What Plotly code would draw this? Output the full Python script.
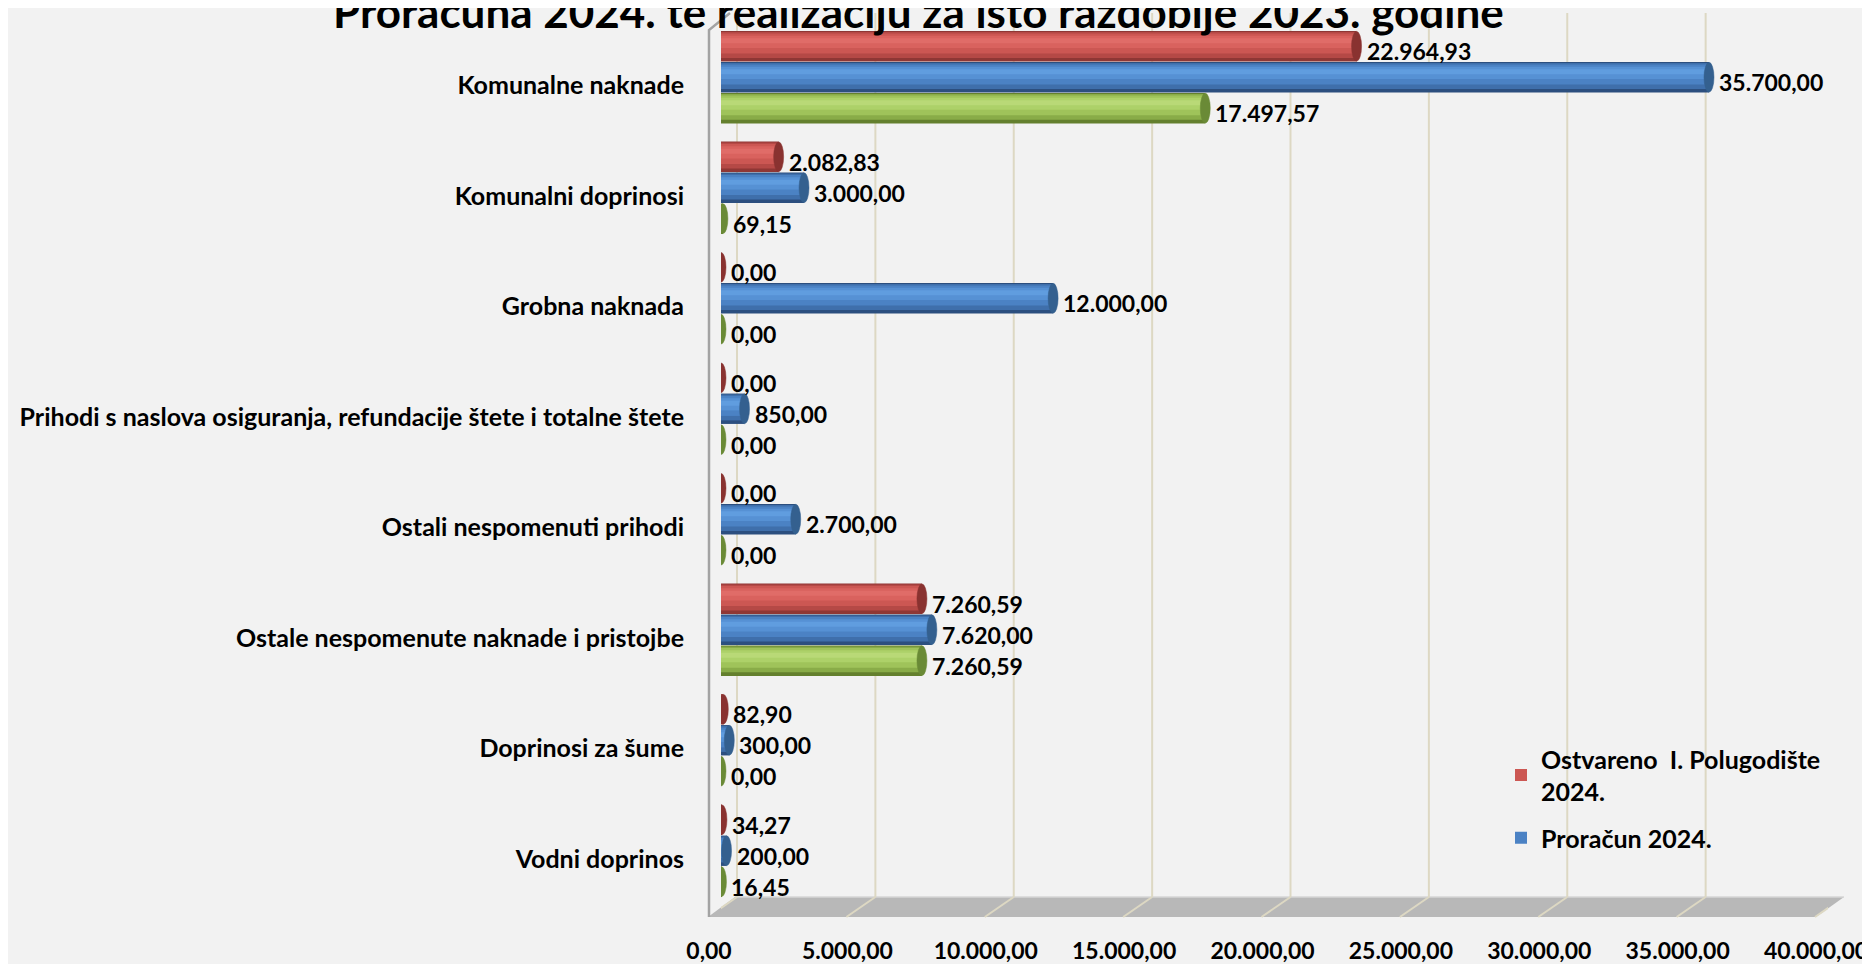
import plotly.graph_objects as go

categories = [
    "Komunalne naknade",
    "Komunalni doprinosi",
    "Grobna naknada",
    "Prihodi s naslova osiguranja, refundacije štete i totalne štete",
    "Ostali nespomenuti prihodi",
    "Ostale nespomenute naknade i pristojbe",
    "Doprinosi za šume",
    "Vodni doprinos",
]
ostvareno_2024 = [22964.93, 2082.83, 0.00, 0.00, 0.00, 7260.59, 82.90, 34.27]
proracun_2024 = [35700.00, 3000.00, 12000.00, 850.00, 2700.00, 7620.00, 300.00, 200.00]
ostvareno_2023 = [17497.57, 69.15, 0.00, 0.00, 0.00, 7260.59, 0.00, 16.45]
series_names = ["Ostvareno  I. Polugodište<br>2024.", "Proračun 2024.", "Ostvareno  I. Polugodište<br>2023."]
x_ticks = [0, 5000, 10000, 15000, 20000, 25000, 30000, 35000, 40000]
title_text = "Proračuna 2024. te realizaciju za isto razdoblje 2023. godine"

# page body has an 8px margin: figure is placed at (8, 8)
OFF = 8
W, H = 1870 - OFF, 964 - OFF
L, R, T, B = 721, 1828, 22, 906  # plot area in screen pixels
def xp(p):
    return (p - L) / (R - L)
def yp(p):
    return (B - p) / (B - T)

FONT = "Lato"
series = [ostvareno_2024, proracun_2024, ostvareno_2023]
offsets = [-0.28, 0.0, 0.28]
palettes = [
    dict(shades=["#8f3735", "#b54946", "#cc5753", "#d9625e", "#e06c68"], cap="#893230"),
    dict(shades=["#2c4f7f", "#3f6fab", "#4b82c4", "#5691d4", "#609ddf"], cap="#34608f"),
    dict(shades=["#64802e", "#89ac48", "#9fc35a", "#add169", "#b9d977"], cap="#6a8a36"),
]
layers = [(0.275, 0.0), (0.235, -0.012), (0.18, -0.025), (0.11, -0.04), (0.045, -0.05)]
legend_layer = 2

fig = go.Figure()
for s, vals in enumerate(series):
    pal = palettes[s]
    ypos = [i + offsets[s] for i in range(len(categories))]
    for k, (width, dy) in enumerate(layers):
        fig.add_trace(go.Bar(
            x=vals, y=[v + dy for v in ypos], orientation="h", width=width,
            marker=dict(color=pal["shades"][k], line=dict(width=0)),
            name=series_names[s], legendgroup=f"g{s}",
            showlegend=(k == legend_layer and s < 2),
            hoverinfo="x",
        ))

shapes = []
# floor
floor = [(708, 917), (735, 897), (1844, 897), (1816, 917)]
path = "M " + " L ".join(f"{xp(a):.5f},{yp(b):.5f}" for a, b in floor) + " Z"
shapes.append(dict(type="path", path=path, xref="paper", yref="paper",
                   fillcolor="#b8b8b8", line=dict(width=0), layer="below"))
shapes.append(dict(type="line", xref="paper", yref="paper", x0=xp(735), x1=xp(1844),
                   y0=yp(897), y1=yp(897), line=dict(color="#d6d6d6", width=1.5), layer="below"))
# back gridlines and floor diagonals
for t in x_ticks:
    shapes.append(dict(type="line", xref="x", xsizemode="pixel", xanchor=t, x0=16, x1=16,
                       yref="paper", y0=yp(897), y1=yp(13),
                       line=dict(color="#ddd8c3", width=2), layer="below"))
    shapes.append(dict(type="line", xref="x", xsizemode="pixel", xanchor=t, x0=-13, x1=16,
                       yref="paper", y0=yp(917), y1=yp(897),
                       line=dict(color="#ddd8c3", width=2), layer="below"))
# left wall
wall = [(709, 917), (709, 30), (730, 13)]
wpath = "M " + " L ".join(f"{xp(a):.5f},{yp(b):.5f}" for a, b in wall)
shapes.append(dict(type="path", path=wpath, xref="paper", yref="paper",
                   line=dict(color="#a3a3a3", width=2.5), layer="below"))
# cylinder caps
for s, vals in enumerate(series):
    for i, v in enumerate(vals):
        yc = i + offsets[s]
        shapes.append(dict(type="circle", xref="x", xsizemode="pixel", xanchor=v, x0=-5, x1=5,
                           yref="y", y0=yc - 0.135, y1=yc + 0.135,
                           fillcolor=palettes[s]["cap"], line=dict(color=palettes[s]["cap"], width=0.5),
                           layer="above"))

annotations = []
for s, vals in enumerate(series):
    for i, v in enumerate(vals):
        txt = f"{v:,.2f}".replace(",", "X").replace(".", ",").replace("X", ".")
        annotations.append(dict(x=v, y=i + offsets[s], xref="x", yref="y", text=txt,
                                showarrow=False, xanchor="left", yanchor="middle",
                                xshift=8, yshift=-5,
                                font=dict(family=FONT, size=23, color="black", weight="bold")))
annotations.append(dict(text=title_text, xref="paper", yref="paper", x=xp(918), y=yp(39),
                        xanchor="center", yanchor="bottom", showarrow=False,
                        font=dict(family=FONT, size=44, color="black", weight="bold")))

fig.update_layout(
    width=W, height=H,
    paper_bgcolor="#f2f2f2", plot_bgcolor="#f2f2f2",
    margin=dict(l=L - OFF, r=W - (R - OFF), t=T - OFF, b=H - (B - OFF), autoexpand=False),
    barmode="overlay",
    separators=",.",
    showlegend=True,
    legend=dict(x=xp(1501), y=yp(736), xanchor="left", yanchor="top",
                bgcolor="rgba(0,0,0,0)", font=dict(family=FONT, size=25, color="black", weight="bold"),
                traceorder="grouped", tracegroupgap=11, itemwidth=30),
    xaxis=dict(range=[0, 40000], tickvals=x_ticks, tickformat=",.2f", showgrid=False,
               zeroline=False, showline=False, ticks="", ticklabelstandoff=29, ticklabelshift=-12,
               ticklabeloverflow="allow",
               tickfont=dict(family=FONT, size=23, color="black", weight="bold"), automargin=False),
    yaxis=dict(range=[7.5, -0.5], tickvals=list(range(len(categories))), ticktext=categories,
               showgrid=False, zeroline=False, showline=False, ticks="",
               ticklabelstandoff=36, ticklabelshift=-8,
               tickfont=dict(family=FONT, size=25, color="black", weight="bold"), automargin=False),
    shapes=shapes, annotations=annotations,
)
fig.write_html("out.html")
